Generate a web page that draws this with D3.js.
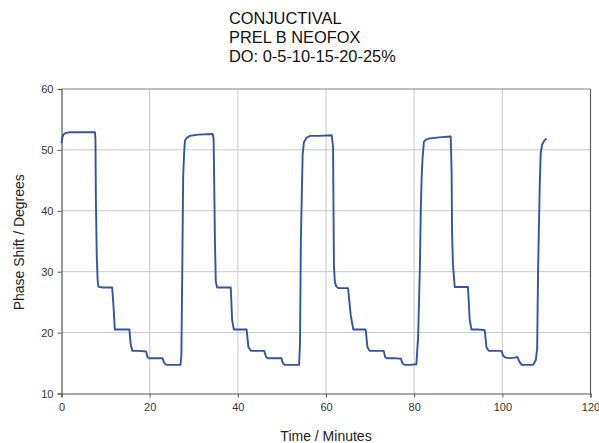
<!DOCTYPE html>
<html>
<head>
<meta charset="utf-8">
<script src="https://cdn.jsdelivr.net/npm/d3@7"></script>
<style>
  html, body { margin: 0; padding: 0; background: #fff; }
  svg { display: block; font-family: "Liberation Sans", Arial, sans-serif; }
</style>
</head>
<body>
<svg id="chart" width="599" height="443"></svg>
<script>
const titleLines = ["CONJUCTIVAL", "PREL B NEOFOX", "DO: 0-5-10-15-20-25%"];
const xLabel = "Time / Minutes";
const yLabel = "Phase Shift / Degrees";
const xTicks = [0, 20, 40, 60, 80, 100, 120];
const yTicks = [10, 20, 30, 40, 50, 60];

const timeMin = [
  0, 0.2, 0.4, 1.0, 2.0, 7.6, 7.7, 7.8, 8.0, 8.2, 8.4, 9.5, 11.5, 11.8, 12.1, 13.5, 15.4, 15.7, 16.1, 17.5, 19.2, 19.5, 19.9, 21.5, 22.9, 23.3, 23.8, 25.5, 27.0, 27.2,
  27.4, 27.6, 27.8, 28.0, 28.3, 29.1, 31.0, 34.3, 34.5, 34.65, 34.8, 35.0, 35.3, 36.5, 38.4, 38.7, 39.1, 40.5, 42.0, 42.4, 43.0, 44.5, 46.0, 46.4, 46.8, 48.0, 49.9, 50.2, 50.6, 52.0,
  53.9, 54.1, 54.3, 54.5, 54.7, 55.0, 55.6, 56.4, 58.5, 61.3, 61.6, 61.8, 62.0, 62.3, 62.8, 64.0, 65.0, 65.6, 66.2, 67.5, 69.0, 69.4, 69.9, 71.5, 73.1, 73.4, 73.8, 75.5, 77.0, 77.3,
  77.8, 79.0, 80.5, 80.9, 81.3, 81.5, 81.7, 81.9, 82.2, 82.7, 83.5, 86.2, 88.3, 88.5, 88.6, 88.8, 89.2, 90.5, 92.2, 92.6, 93.0, 94.5, 96.0, 96.4, 96.9, 98.5, 99.8, 100.2, 100.7, 101.7,
  102.8, 103.4, 103.9, 104.4, 105.5, 107.0, 107.6, 107.9, 108.1, 108.3, 108.5, 108.7, 109.0, 109.4, 109.9
];
const phaseDeg = [
  51.2, 52.0, 52.5, 52.8, 52.9, 52.9, 51.6, 41.8, 32.5, 28.5, 27.5, 27.4, 27.4, 24.3, 20.5, 20.5, 20.5, 18.0, 17.0, 17.0, 16.9, 16.0, 15.8, 15.8, 15.8, 15.0, 14.7, 14.7, 14.7, 16.4,
  30.6, 45.6, 49.2, 51.5, 51.9, 52.3, 52.5, 52.6, 51.9, 44.2, 35.2, 28.4, 27.4, 27.4, 27.4, 22.1, 20.5, 20.5, 20.5, 17.6, 17.0, 17.0, 17.0, 16.0, 15.8, 15.8, 15.8, 15.0, 14.7, 14.7,
  14.7, 18.2, 35.0, 42.3, 49.2, 51.3, 52.0, 52.3, 52.3, 52.4, 50.5, 31.0, 28.4, 27.6, 27.3, 27.3, 27.3, 22.9, 20.5, 20.5, 20.5, 17.6, 17.0, 17.0, 17.0, 16.0, 15.8, 15.8, 15.7, 15.0,
  14.7, 14.7, 14.8, 19.3, 30.7, 40.1, 45.6, 48.6, 51.3, 51.7, 51.9, 52.1, 52.2, 45.9, 36.3, 31.1, 27.5, 27.5, 27.5, 22.1, 20.5, 20.5, 20.4, 17.6, 17.0, 17.0, 17.0, 16.2, 15.9, 15.8,
  15.9, 16.0, 15.2, 14.7, 14.7, 14.7, 15.5, 17.4, 29.7, 37.4, 44.5, 49.4, 50.8, 51.4, 51.8
];

const data = timeMin.map((t, i) => ({ t, v: phaseDeg[i] }));

const svg = d3.select("#chart");
const margin = { left: 61.5, right: 8.5, top: 89, bottom: 49.5 };
const W = 599, H = 443;
const x = d3.scaleLinear().domain([0, 120]).range([margin.left, W - margin.right]);
const y = d3.scaleLinear().domain([10, 60]).range([H - margin.bottom, margin.top]);

// gridlines
const grid = svg.append("g");
grid.selectAll("line.vx").data(xTicks.slice(1, -1)).join("line")
  .attr("x1", d => x(d)).attr("x2", d => x(d))
  .attr("y1", y(10)).attr("y2", y(60))
  .attr("stroke", "#c8c8c8").attr("stroke-width", 1);
grid.selectAll("line.hy").data(yTicks.slice(1, -1)).join("line")
  .attr("x1", x(0)).attr("x2", x(120))
  .attr("y1", d => y(d)).attr("y2", d => y(d))
  .attr("stroke", "#c8c8c8").attr("stroke-width", 1);

// frame top & right
svg.append("line").attr("x1", x(0)).attr("x2", x(120)).attr("y1", y(60)).attr("y2", y(60))
  .attr("stroke", "#808080").attr("stroke-width", 1.2);
svg.append("line").attr("x1", x(120)).attr("x2", x(120)).attr("y1", y(60)).attr("y2", y(10))
  .attr("stroke", "#606060").attr("stroke-width", 1.2);

// axes
const xAxis = d3.axisBottom(x).tickValues(xTicks).tickSize(4).tickPadding(6).tickFormat(d3.format("d"));
const yAxis = d3.axisLeft(y).tickValues(yTicks).tickSize(4).tickPadding(4).tickFormat(d3.format("d"));
const gx = svg.append("g").attr("transform", `translate(0,${y(10)})`).call(xAxis);
const gy = svg.append("g").attr("transform", `translate(${x(0)},0)`).call(yAxis);
[gx, gy].forEach(g => {
  g.select(".domain").attr("stroke", "#555").attr("stroke-width", 1.2);
  g.selectAll(".tick line").attr("stroke", "#555");
  g.selectAll(".tick text").attr("fill", "#333").style("font-size", "11px")
    .style("font-family", "'Liberation Sans', Arial, sans-serif");
});

// data line
const line = d3.line().x(d => x(d.t)).y(d => y(d.v));
svg.append("path").datum(data).attr("d", line)
  .attr("fill", "none").attr("stroke", "#3552a8").attr("stroke-width", 1.9)
  .attr("stroke-linejoin", "round").attr("stroke-linecap", "round");

// titles
const tt = svg.append("text").attr("x", 229).attr("y", 24).attr("fill", "#111")
  .style("font-size", "16.4px");
tt.selectAll("tspan").data(titleLines).join("tspan")
  .attr("x", 229).attr("dy", (d, i) => i === 0 ? 0 : 19).text(d => d);

svg.append("text").attr("x", 326).attr("y", 441).attr("text-anchor", "middle")
  .attr("fill", "#222").style("font-size", "14px").text(xLabel);
svg.append("text").attr("transform", `translate(24,${(y(10) + y(60)) / 2 + 1}) rotate(-90)`)
  .attr("text-anchor", "middle").attr("fill", "#222").style("font-size", "14px").text(yLabel);
</script>
</body>
</html>
